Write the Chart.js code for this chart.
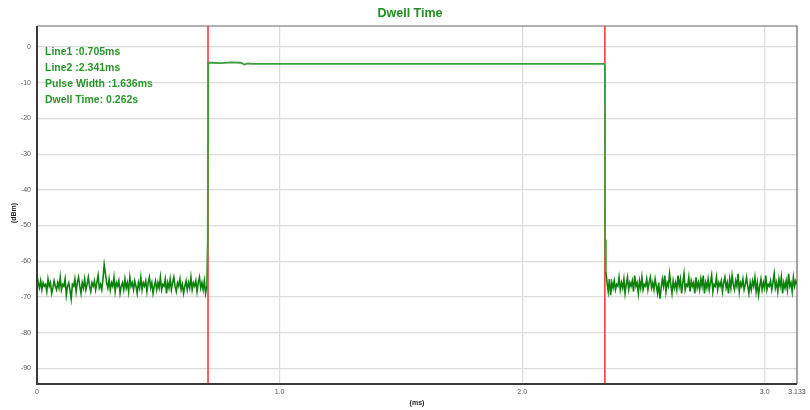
<!DOCTYPE html>
<html>
<head>
<meta charset="utf-8">
<script src="https://cdn.jsdelivr.net/npm/chart.js@4/dist/chart.umd.min.js"></script>
<style>
html,body{margin:0;padding:0;background:#fff;}
#wrap{width:810px;height:410px;position:relative;}
</style>
</head>
<body>
<div id="wrap"><canvas id="c" width="810" height="410"></canvas></div>
<script>
const chartTitle = 'Dwell Time';
const xAxisTitle = '(ms)';
const yAxisTitle = '(dBm)';
const xTickValues = [0, 1, 2, 3, 3.133];
const xTickLabels = ['0', '1.0', '2.0', '3.0', '3.133'];
const yTickValues = [0, -10, -20, -30, -40, -50, -60, -70, -80, -90];
const xMin = 0, xMax = 3.133;
const yMin = -94.4, yMax = 5.9;
const markerLines = [0.705, 2.341];
const infoLines = ['Line1 :0.705ms', 'Line2 :2.341ms', 'Pulse Width :1.636ms', 'Dwell Time: 0.262s'];

// noise floor before the pulse (0 .. 0.700 ms)
const noiseBeforeStart = 0, noiseBeforeEnd = 0.700;
const noiseBefore = [
  -64, -66, -67.5, -65.5, -68, -66, -67, -66.5, -68.5, -65, -67, -66, -69, -67.5, -65.5, -67, -68, -66, -67.5, -64.5,
  -68, -66.5, -67, -65, -69.5, -67, -66, -68, -70.5, -66.5, -67, -65, -68.5, -66, -64.5, -67, -69, -66, -67.5, -65,
  -68, -66.5, -64.5, -67, -68.5, -66, -67, -65.5, -68, -66, -64, -67.5, -66.5, -68, -65, -61, -63.5, -66, -67.5, -65,
  -68, -66, -67, -64.5, -68.5, -66, -67, -65.5, -69, -67, -66, -68, -65, -67.5, -66, -68.5, -64.5, -67, -66, -68,
  -65.5, -67, -69, -66, -67.5, -64.5, -68, -66, -67, -65.5, -68.5, -66, -64.5, -67.5, -66, -69, -67, -65.5, -68, -66,
  -67.5, -64.5, -68, -66.5, -67, -65, -69, -66, -67.5, -65, -68, -66, -64.5, -67, -68.5, -66, -67, -65, -68, -66.5,
  -69, -67, -65.5, -68, -66, -67.5, -64.5, -68, -66, -67, -65.5, -68.5, -66, -64.5, -67.5, -66, -68, -65.5, -69, -67];

// pulse (edges + top)
const pulseX = [0.700, 0.704, 0.705, 0.706, 0.72, 0.76, 0.80, 0.84, 0.855, 0.87, 0.89, 1.5, 2.338, 2.341, 2.342, 2.345];
const pulseY = [-67, -54, -27, -4.4, -4.4, -4.5, -4.3, -4.4, -4.9, -4.6, -4.7, -4.7, -4.7, -4.8, -54, -63];

// noise floor after the pulse (2.345 .. 3.133 ms)
const noiseAfterStart = 2.345, noiseAfterEnd = 3.133;
const noiseAfter = [
  -63, -66, -68.5, -65, -69.5, -66, -67.5, -65.5, -68, -66.5, -67, -64.5, -68, -66, -67.5, -65, -69, -66.5, -64.5, -68,
  -66, -67, -65.5, -68.5, -64, -67, -66, -69, -65.5, -67.5, -64.5, -68, -66.5, -67, -65, -68, -66, -64.5, -67.5, -66,
  -68, -65, -67, -69, -66, -70.5, -67.5, -65, -67, -64, -68.5, -66, -67, -63.5, -66.5, -69, -65.5, -67.5, -66, -68,
  -64, -67, -65, -69, -66, -63.5, -68, -66.5, -67, -64.5, -68.5, -65.5, -67, -66, -69, -64.5, -67.5, -66, -68, -65,
  -67, -64, -69, -66, -67.5, -65, -68, -66, -64, -68.5, -66.5, -67, -64.5, -68, -66, -67, -65.5, -68.5, -66, -64.5,
  -67.5, -66, -69, -65, -67.5, -64, -66.5, -68, -65.5, -67, -63.5, -68.5, -66, -67, -65, -68, -66.5, -64.5, -67, -69,
  -66, -68, -65.5, -67, -64.5, -68.5, -66, -69.5, -67, -65, -68, -66, -67.5, -64, -68, -66.5, -67, -65.5, -68, -66,
  -63.5, -67.5, -66, -68.5, -65, -67, -64.5, -69, -66, -67.5, -65.5, -68, -63.5, -67, -66, -68.5, -64.5, -67, -65.5, -66.5];

function spread(vals, a, b) {
  return vals.map((v, i) => ({ x: a + (b - a) * i / (vals.length - 1), y: v }));
}

const darkGreen = '#0a820a';
const lightGreen = '#3c9e3c';
const red = '#ff3a3a';

const datasets = [
  { data: spread(noiseBefore, noiseBeforeStart, noiseBeforeEnd), borderColor: darkGreen, borderWidth: 1.6 },
  { data: pulseX.map((x, i) => ({ x, y: pulseY[i] })), borderColor: lightGreen, borderWidth: 1.8 },
  { data: spread(noiseAfter, noiseAfterStart, noiseAfterEnd), borderColor: darkGreen, borderWidth: 1.6 },
];
markerLines.forEach(m => datasets.push({ data: [{ x: m, y: yMin }, { x: m, y: yMax }], borderColor: red, borderWidth: 1.6 }));
datasets.forEach(d => { d.pointRadius = 0; d.tension = 0; d.fill = false; });

const decor = {
  id: 'decor',
  afterDraw(chart) {
    const { ctx, chartArea: a } = chart;
    ctx.save();
    // frame
    ctx.strokeStyle = '#666'; ctx.lineWidth = 1.2;
    ctx.beginPath(); ctx.moveTo(a.left, a.top); ctx.lineTo(a.right, a.top); ctx.lineTo(a.right, a.bottom); ctx.stroke();
    ctx.strokeStyle = '#3a3a3a'; ctx.lineWidth = 2;
    ctx.beginPath(); ctx.moveTo(a.left, a.top); ctx.lineTo(a.left, a.bottom); ctx.lineTo(a.right, a.bottom); ctx.stroke();
    // title
    ctx.fillStyle = '#1f8f1f';
    ctx.font = 'bold 12.5px "Liberation Sans", Arial, sans-serif';
    ctx.textAlign = 'center'; ctx.textBaseline = 'middle';
    ctx.fillText(chartTitle, 410, 14);
    // info text
    ctx.fillStyle = '#2a962a';
    ctx.font = 'bold 10.5px "Liberation Sans", Arial, sans-serif';
    ctx.textAlign = 'left';
    infoLines.forEach((t, i) => ctx.fillText(t, 45, 52 + i * 16.2));
    // axis titles
    ctx.fillStyle = '#222';
    ctx.font = 'bold 7px "Liberation Sans", Arial, sans-serif';
    ctx.textAlign = 'center';
    ctx.fillText(xAxisTitle, 417, 403);
    ctx.translate(14, 213); ctx.rotate(-Math.PI / 2);
    ctx.fillText(yAxisTitle, 0, 0);
    ctx.restore();
  }
};

new Chart(document.getElementById('c'), {
  type: 'line',
  data: { datasets },
  options: {
    responsive: false,
    animation: false,
    layout: { padding: { top: 26, right: 13, left: 0, bottom: 0 } },
    plugins: { legend: { display: false }, tooltip: { enabled: false }, title: { display: false } },
    scales: {
      x: {
        type: 'linear', min: xMin, max: xMax,
        afterBuildTicks: s => { s.ticks = xTickValues.map(v => ({ value: v })); },
        afterFit: s => { s.height = 26; },
        ticks: {
          autoSkip: false, maxRotation: 0, padding: 4,
          color: '#555', font: { family: '"Liberation Sans", Arial, sans-serif', size: 7 },
          callback: (v, i) => xTickLabels[i]
        },
        grid: { color: c => (c.tick && (c.tick.value === 0 || c.tick.value === xMax)) ? 'rgba(0,0,0,0)' : '#dcdcdc', lineWidth: 1.2, drawTicks: false },
        border: { display: false }
      },
      y: {
        type: 'linear', min: yMin, max: yMax,
        afterBuildTicks: s => { s.ticks = yTickValues.map(v => ({ value: v })); },
        afterFit: s => { s.width = 37; },
        ticks: {
          padding: 6, color: '#555', font: { family: '"Liberation Sans", Arial, sans-serif', size: 7 },
          callback: v => String(v)
        },
        grid: { color: '#dcdcdc', lineWidth: 1.2, drawTicks: false },
        border: { display: false }
      }
    }
  },
  plugins: [decor]
});
</script>
</body>
</html>
